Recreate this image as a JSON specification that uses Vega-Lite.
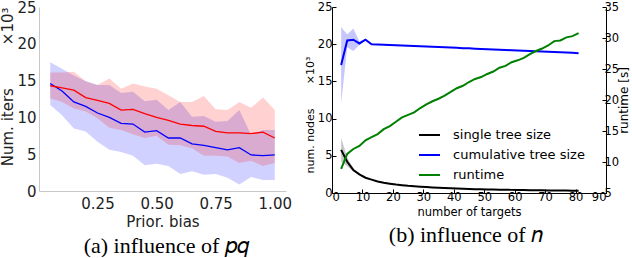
{
  "$schema": "https://vega.github.io/schema/vega-lite/v6.json",
  "padding": {"left": 0, "top": 0, "right": 0, "bottom": 0},
  "background": "white",
  "config": {"view": {"stroke": null}, "font": "DejaVu Sans", "concat": {"spacing": 12}},
  "datasets": {
    "a": [
      {"x": 0.05, "s": "5 points", "m": 14.6, "lo": 11.7, "hi": 17.5},
      {"x": 0.10, "s": "5 points", "m": 13.6, "lo": 10.3, "hi": 16.6},
      {"x": 0.15, "s": "5 points", "m": 12.1, "lo": 8.5, "hi": 15.7},
      {"x": 0.20, "s": "5 points", "m": 11.5, "lo": 8.1, "hi": 14.9},
      {"x": 0.25, "s": "5 points", "m": 10.6, "lo": 6.7, "hi": 14.4},
      {"x": 0.30, "s": "5 points", "m": 10.0, "lo": 5.6, "hi": 14.4},
      {"x": 0.35, "s": "5 points", "m": 9.2, "lo": 5.3, "hi": 13.3},
      {"x": 0.40, "s": "5 points", "m": 9.1, "lo": 4.8, "hi": 13.5},
      {"x": 0.45, "s": "5 points", "m": 8.0, "lo": 3.5, "hi": 12.2},
      {"x": 0.50, "s": "5 points", "m": 8.2, "lo": 3.7, "hi": 12.4},
      {"x": 0.55, "s": "5 points", "m": 7.2, "lo": 3.4, "hi": 11.0},
      {"x": 0.60, "s": "5 points", "m": 7.2, "lo": 2.3, "hi": 12.1},
      {"x": 0.65, "s": "5 points", "m": 6.4, "lo": 2.7, "hi": 10.1},
      {"x": 0.70, "s": "5 points", "m": 6.2, "lo": 2.2, "hi": 10.2},
      {"x": 0.75, "s": "5 points", "m": 5.9, "lo": 2.3, "hi": 9.4},
      {"x": 0.80, "s": "5 points", "m": 5.6, "lo": 1.8, "hi": 9.5},
      {"x": 0.85, "s": "5 points", "m": 5.9, "lo": 0.9, "hi": 11.0},
      {"x": 0.90, "s": "5 points", "m": 4.9, "lo": 1.9, "hi": 7.6},
      {"x": 0.95, "s": "5 points", "m": 4.8, "lo": 1.5, "hi": 8.3},
      {"x": 1.00, "s": "5 points", "m": 4.9, "lo": 1.5, "hi": 8.3},
      {"x": 0.05, "s": "20 points", "m": 14.3, "lo": 12.6, "hi": 16.1},
      {"x": 0.10, "s": "20 points", "m": 14.0, "lo": 12.1, "hi": 16.1},
      {"x": 0.15, "s": "20 points", "m": 13.7, "lo": 11.2, "hi": 16.2},
      {"x": 0.20, "s": "20 points", "m": 12.7, "lo": 10.8, "hi": 14.9},
      {"x": 0.25, "s": "20 points", "m": 12.3, "lo": 9.9, "hi": 14.4},
      {"x": 0.30, "s": "20 points", "m": 11.9, "lo": 8.6, "hi": 15.3},
      {"x": 0.35, "s": "20 points", "m": 11.0, "lo": 8.3, "hi": 13.9},
      {"x": 0.40, "s": "20 points", "m": 11.1, "lo": 7.7, "hi": 14.6},
      {"x": 0.45, "s": "20 points", "m": 10.5, "lo": 7.2, "hi": 14.2},
      {"x": 0.50, "s": "20 points", "m": 10.0, "lo": 7.5, "hi": 13.9},
      {"x": 0.55, "s": "20 points", "m": 9.6, "lo": 6.3, "hi": 13.0},
      {"x": 0.60, "s": "20 points", "m": 9.1, "lo": 6.2, "hi": 12.1},
      {"x": 0.65, "s": "20 points", "m": 8.9, "lo": 5.8, "hi": 12.1},
      {"x": 0.70, "s": "20 points", "m": 8.8, "lo": 4.8, "hi": 12.9},
      {"x": 0.75, "s": "20 points", "m": 8.1, "lo": 4.8, "hi": 11.1},
      {"x": 0.80, "s": "20 points", "m": 7.9, "lo": 4.7, "hi": 11.0},
      {"x": 0.85, "s": "20 points", "m": 7.9, "lo": 3.8, "hi": 12.1},
      {"x": 0.90, "s": "20 points", "m": 7.8, "lo": 4.1, "hi": 11.3},
      {"x": 0.95, "s": "20 points", "m": 8.0, "lo": 3.4, "hi": 12.7},
      {"x": 1.00, "s": "20 points", "m": 7.2, "lo": 3.8, "hi": 11.0}
    ],
    "nodes": [
      {"x": 3, "s": "single tree size", "m": 5.8, "lo": 4.2, "hi": 7.4},
      {"x": 5, "s": "single tree size", "m": 4.2, "lo": 3.6, "hi": 4.8},
      {"x": 7, "s": "single tree size", "m": 3.1, "lo": 2.9, "hi": 3.3},
      {"x": 9, "s": "single tree size", "m": 2.5, "lo": 2.45, "hi": 2.55},
      {"x": 11, "s": "single tree size", "m": 2.05, "lo": 2.0, "hi": 2.1},
      {"x": 13, "s": "single tree size", "m": 1.8, "lo": 1.77, "hi": 1.83},
      {"x": 15, "s": "single tree size", "m": 1.55, "lo": 1.52, "hi": 1.58},
      {"x": 17, "s": "single tree size", "m": 1.38, "lo": 1.36, "hi": 1.4},
      {"x": 19, "s": "single tree size", "m": 1.25, "lo": 1.23, "hi": 1.27},
      {"x": 21, "s": "single tree size", "m": 1.13, "lo": 1.11, "hi": 1.15},
      {"x": 23, "s": "single tree size", "m": 1.04, "lo": 1.02, "hi": 1.06},
      {"x": 25, "s": "single tree size", "m": 0.96, "lo": 0.94, "hi": 0.98},
      {"x": 27, "s": "single tree size", "m": 0.9, "lo": 0.88, "hi": 0.92},
      {"x": 29, "s": "single tree size", "m": 0.84, "lo": 0.82, "hi": 0.86},
      {"x": 31, "s": "single tree size", "m": 0.79, "lo": 0.77, "hi": 0.81},
      {"x": 33, "s": "single tree size", "m": 0.74, "lo": 0.72, "hi": 0.76},
      {"x": 35, "s": "single tree size", "m": 0.7, "lo": 0.68, "hi": 0.72},
      {"x": 37, "s": "single tree size", "m": 0.66, "lo": 0.64, "hi": 0.68},
      {"x": 39, "s": "single tree size", "m": 0.63, "lo": 0.61, "hi": 0.65},
      {"x": 41, "s": "single tree size", "m": 0.6, "lo": 0.58, "hi": 0.62},
      {"x": 43, "s": "single tree size", "m": 0.57, "lo": 0.55, "hi": 0.59},
      {"x": 45, "s": "single tree size", "m": 0.55, "lo": 0.53, "hi": 0.57},
      {"x": 47, "s": "single tree size", "m": 0.52, "lo": 0.5, "hi": 0.54},
      {"x": 49, "s": "single tree size", "m": 0.5, "lo": 0.48, "hi": 0.52},
      {"x": 51, "s": "single tree size", "m": 0.48, "lo": 0.46, "hi": 0.5},
      {"x": 53, "s": "single tree size", "m": 0.46, "lo": 0.44, "hi": 0.48},
      {"x": 55, "s": "single tree size", "m": 0.45, "lo": 0.43, "hi": 0.47},
      {"x": 57, "s": "single tree size", "m": 0.43, "lo": 0.41, "hi": 0.45},
      {"x": 59, "s": "single tree size", "m": 0.42, "lo": 0.4, "hi": 0.44},
      {"x": 61, "s": "single tree size", "m": 0.4, "lo": 0.38, "hi": 0.42},
      {"x": 63, "s": "single tree size", "m": 0.39, "lo": 0.37, "hi": 0.41},
      {"x": 65, "s": "single tree size", "m": 0.38, "lo": 0.36, "hi": 0.4},
      {"x": 67, "s": "single tree size", "m": 0.37, "lo": 0.35, "hi": 0.39},
      {"x": 69, "s": "single tree size", "m": 0.36, "lo": 0.34, "hi": 0.38},
      {"x": 71, "s": "single tree size", "m": 0.35, "lo": 0.33, "hi": 0.37},
      {"x": 73, "s": "single tree size", "m": 0.34, "lo": 0.32, "hi": 0.36},
      {"x": 75, "s": "single tree size", "m": 0.33, "lo": 0.31, "hi": 0.35},
      {"x": 77, "s": "single tree size", "m": 0.32, "lo": 0.3, "hi": 0.34},
      {"x": 79, "s": "single tree size", "m": 0.31, "lo": 0.29, "hi": 0.33},
      {"x": 81, "s": "single tree size", "m": 0.3, "lo": 0.28, "hi": 0.32},
      {"x": 3, "s": "cumulative tree size", "m": 17.2, "lo": 12.0, "hi": 22.3},
      {"x": 5, "s": "cumulative tree size", "m": 20.5, "lo": 19.6, "hi": 21.3},
      {"x": 7, "s": "cumulative tree size", "m": 20.6, "lo": 19.1, "hi": 22.1},
      {"x": 9, "s": "cumulative tree size", "m": 20.1, "lo": 19.9, "hi": 20.4},
      {"x": 11, "s": "cumulative tree size", "m": 20.6, "lo": 20.5, "hi": 20.7},
      {"x": 13, "s": "cumulative tree size", "m": 20.0, "lo": 19.95, "hi": 20.05},
      {"x": 15, "s": "cumulative tree size", "m": 19.96, "lo": 19.91, "hi": 20.01},
      {"x": 17, "s": "cumulative tree size", "m": 19.93, "lo": 19.88, "hi": 19.98},
      {"x": 19, "s": "cumulative tree size", "m": 19.89, "lo": 19.84, "hi": 19.94},
      {"x": 21, "s": "cumulative tree size", "m": 19.86, "lo": 19.81, "hi": 19.91},
      {"x": 23, "s": "cumulative tree size", "m": 19.82, "lo": 19.77, "hi": 19.87},
      {"x": 25, "s": "cumulative tree size", "m": 19.79, "lo": 19.74, "hi": 19.84},
      {"x": 27, "s": "cumulative tree size", "m": 19.75, "lo": 19.7, "hi": 19.8},
      {"x": 29, "s": "cumulative tree size", "m": 19.72, "lo": 19.67, "hi": 19.77},
      {"x": 31, "s": "cumulative tree size", "m": 19.68, "lo": 19.63, "hi": 19.73},
      {"x": 33, "s": "cumulative tree size", "m": 19.65, "lo": 19.6, "hi": 19.7},
      {"x": 35, "s": "cumulative tree size", "m": 19.61, "lo": 19.56, "hi": 19.66},
      {"x": 37, "s": "cumulative tree size", "m": 19.58, "lo": 19.53, "hi": 19.63},
      {"x": 39, "s": "cumulative tree size", "m": 19.54, "lo": 19.49, "hi": 19.59},
      {"x": 41, "s": "cumulative tree size", "m": 19.51, "lo": 19.46, "hi": 19.56},
      {"x": 43, "s": "cumulative tree size", "m": 19.47, "lo": 19.42, "hi": 19.52},
      {"x": 45, "s": "cumulative tree size", "m": 19.44, "lo": 19.39, "hi": 19.49},
      {"x": 47, "s": "cumulative tree size", "m": 19.4, "lo": 19.35, "hi": 19.45},
      {"x": 49, "s": "cumulative tree size", "m": 19.36, "lo": 19.31, "hi": 19.41},
      {"x": 51, "s": "cumulative tree size", "m": 19.33, "lo": 19.28, "hi": 19.38},
      {"x": 53, "s": "cumulative tree size", "m": 19.29, "lo": 19.24, "hi": 19.34},
      {"x": 55, "s": "cumulative tree size", "m": 19.26, "lo": 19.21, "hi": 19.31},
      {"x": 57, "s": "cumulative tree size", "m": 19.22, "lo": 19.17, "hi": 19.27},
      {"x": 59, "s": "cumulative tree size", "m": 19.19, "lo": 19.14, "hi": 19.24},
      {"x": 61, "s": "cumulative tree size", "m": 19.15, "lo": 19.1, "hi": 19.2},
      {"x": 63, "s": "cumulative tree size", "m": 19.12, "lo": 19.07, "hi": 19.17},
      {"x": 65, "s": "cumulative tree size", "m": 19.08, "lo": 19.03, "hi": 19.13},
      {"x": 67, "s": "cumulative tree size", "m": 19.05, "lo": 19.0, "hi": 19.1},
      {"x": 69, "s": "cumulative tree size", "m": 19.01, "lo": 18.96, "hi": 19.06},
      {"x": 71, "s": "cumulative tree size", "m": 18.98, "lo": 18.93, "hi": 19.03},
      {"x": 73, "s": "cumulative tree size", "m": 18.94, "lo": 18.89, "hi": 18.99},
      {"x": 75, "s": "cumulative tree size", "m": 18.91, "lo": 18.86, "hi": 18.96},
      {"x": 77, "s": "cumulative tree size", "m": 18.87, "lo": 18.82, "hi": 18.92},
      {"x": 79, "s": "cumulative tree size", "m": 18.84, "lo": 18.79, "hi": 18.89},
      {"x": 81, "s": "cumulative tree size", "m": 18.8, "lo": 18.75, "hi": 18.85}
    ],
    "runtime": [
      {"x": 3, "s": "runtime", "r": 8.9}, {"x": 5, "s": "runtime", "r": 11.3},
      {"x": 7, "s": "runtime", "r": 12.1}, {"x": 9, "s": "runtime", "r": 12.6},
      {"x": 11, "s": "runtime", "r": 13.5}, {"x": 13, "s": "runtime", "r": 14.0},
      {"x": 15, "s": "runtime", "r": 14.5}, {"x": 17, "s": "runtime", "r": 15.3},
      {"x": 19, "s": "runtime", "r": 15.8}, {"x": 21, "s": "runtime", "r": 16.5},
      {"x": 23, "s": "runtime", "r": 17.2}, {"x": 25, "s": "runtime", "r": 17.6},
      {"x": 27, "s": "runtime", "r": 18.0}, {"x": 29, "s": "runtime", "r": 18.7},
      {"x": 31, "s": "runtime", "r": 19.3}, {"x": 33, "s": "runtime", "r": 19.8},
      {"x": 35, "s": "runtime", "r": 20.2}, {"x": 37, "s": "runtime", "r": 20.7},
      {"x": 39, "s": "runtime", "r": 21.3}, {"x": 41, "s": "runtime", "r": 21.9},
      {"x": 43, "s": "runtime", "r": 22.3}, {"x": 45, "s": "runtime", "r": 22.9},
      {"x": 47, "s": "runtime", "r": 23.4}, {"x": 49, "s": "runtime", "r": 23.7},
      {"x": 51, "s": "runtime", "r": 24.2}, {"x": 53, "s": "runtime", "r": 24.6},
      {"x": 55, "s": "runtime", "r": 25.2}, {"x": 57, "s": "runtime", "r": 25.5},
      {"x": 59, "s": "runtime", "r": 26.1}, {"x": 61, "s": "runtime", "r": 26.4},
      {"x": 63, "s": "runtime", "r": 26.8}, {"x": 65, "s": "runtime", "r": 27.4},
      {"x": 67, "s": "runtime", "r": 27.9}, {"x": 69, "s": "runtime", "r": 28.3},
      {"x": 71, "s": "runtime", "r": 28.8}, {"x": 73, "s": "runtime", "r": 29.5},
      {"x": 75, "s": "runtime", "r": 29.6}, {"x": 77, "s": "runtime", "r": 30.1},
      {"x": 79, "s": "runtime", "r": 30.3}, {"x": 81, "s": "runtime", "r": 30.8}
    ]
  },
  "hconcat": [
    {
      "title": {"text": "(a) influence of 𝑝𝑞", "orient": "bottom", "anchor": "middle", "font": "Liberation Serif", "fontSize": 22, "fontWeight": "normal", "color": "black", "offset": 7, "dx": 20},
      "vconcat": [
        {
          "width": 247,
          "height": 184,
          "data": {"name": "a"},
          "encoding": {
            "x": {"field": "x", "type": "quantitative", "scale": {"domain": [0.0025, 1.0475], "nice": false, "zero": false},
              "axis": {"values": [0.25, 0.5, 0.75, 1.0], "format": ".2f", "title": "Prior. bias", "grid": false, "ticks": false, "labelOverlap": false, "domainColor": "#c8c8c8", "labelFontSize": 15, "titleFontSize": 15, "titleFontWeight": "normal", "labelColor": "#222", "titleColor": "#222", "labelPadding": 5, "titlePadding": 3}}
          },
          "layer": [
            {
              "mark": {"type": "area", "opacity": 0.18},
              "encoding": {
                "y": {"field": "lo", "type": "quantitative", "scale": {"domain": [0, 25], "nice": false},
                  "axis": {"values": [0, 5, 10, 15, 20, 25], "title": "Num. iters\u00a0\u00a0\u00a0\u00a0\u00a0\u00a0\u00a0\u00a0\u00a0×10³", "titleAnchor": "end", "grid": false, "ticks": false, "labelOverlap": false, "domainColor": "#c8c8c8", "labelFontSize": 15, "titleFontSize": 15, "titleFontWeight": "normal", "labelColor": "#222", "titleColor": "#222", "labelPadding": 3, "titlePadding": 1}},
                "y2": {"field": "hi"},
                "fill": {"field": "s", "type": "nominal", "scale": {"domain": ["5 points", "20 points"], "range": ["#0000ff", "#ff0000"]}, "legend": null}
              }
            },
            {
              "mark": {"type": "line", "strokeWidth": 1.3},
              "encoding": {
                "y": {"field": "m", "type": "quantitative",
                  "axis": {"values": [0, 5, 10, 15, 20, 25], "title": "Num. iters\u00a0\u00a0\u00a0\u00a0\u00a0\u00a0\u00a0\u00a0\u00a0×10³", "titleAnchor": "end", "grid": false, "ticks": false, "labelOverlap": false, "domainColor": "#c8c8c8", "labelFontSize": 15, "titleFontSize": 15, "titleFontWeight": "normal", "labelColor": "#222", "titleColor": "#222", "labelPadding": 3, "titlePadding": 1}},
                "stroke": {"field": "s", "type": "nominal", "scale": {"domain": ["5 points", "20 points"], "range": ["#0000ff", "#ff0000"]},
                  "legend": {"title": null, "orient": "none", "legendX": 121, "legendY": 8, "fillColor": "white", "strokeColor": "#d8d8d8", "cornerRadius": 3, "padding": 5, "symbolType": "M-1,0H3", "symbolSize": 210, "symbolStrokeWidth": 1.3, "labelFontSize": 15, "labelColor": "#222", "labelOffset": 26, "rowPadding": 5}}
              }
            }
          ]
        }
      ]
    },
    {
      "title": {"text": "(b) influence of 𝑛", "orient": "bottom", "anchor": "middle", "font": "Liberation Serif", "fontSize": 22, "fontWeight": "normal", "color": "black", "offset": 7, "dx": -1},
      "vconcat": [
        {
          "width": 274,
          "height": 186,
          "resolve": {"scale": {"y": "independent"}},
          "encoding": {
            "x": {"field": "x", "type": "quantitative", "scale": {"domain": [0, 90], "nice": false},
              "axis": {"values": [0, 10, 20, 30, 40, 50, 60, 70, 80, 90], "title": "number of targets", "grid": false, "tickSize": -4, "labelOverlap": false, "domainColor": "black", "tickColor": "black", "labelFontSize": 11.5, "titleFontSize": 11.5, "titleFontWeight": "normal", "labelColor": "black", "titleColor": "black", "labelPadding": 2, "titlePadding": 4}}
          },
          "layer": [
            {
              "data": {"name": "nodes"},
              "layer": [
                {
                  "mark": {"type": "area", "opacity": 0.22},
                  "encoding": {
                    "y": {"field": "lo", "type": "quantitative", "scale": {"domain": [0, 25], "nice": false},
                      "axis": {"values": [0, 5, 10, 15, 20, 25], "title": "num. nodes\u00a0\u00a0\u00a0\u00a0\u00a0\u00a0\u00a0×10³", "titleAnchor": "end", "titleY": 49, "grid": false, "tickSize": -4, "labelOverlap": false, "domainColor": "black", "tickColor": "black", "labelFontSize": 11.5, "titleFontSize": 11, "titleFontWeight": "normal", "labelColor": "black", "titleColor": "black", "labelPadding": 4, "titlePadding": 2}},
                    "y2": {"field": "hi"},
                    "fill": {"field": "s", "type": "nominal", "scale": {"domain": ["single tree size", "cumulative tree size"], "range": ["black", "#0000ff"]}, "legend": null}
                  }
                },
                {
                  "mark": {"type": "line", "strokeWidth": 2},
                  "encoding": {
                    "y": {"field": "m", "type": "quantitative",
                      "axis": {"values": [0, 5, 10, 15, 20, 25], "title": "num. nodes\u00a0\u00a0\u00a0\u00a0\u00a0\u00a0\u00a0×10³", "titleAnchor": "end", "titleY": 49, "grid": false, "tickSize": -4, "labelOverlap": false, "domainColor": "black", "tickColor": "black", "labelFontSize": 11.5, "titleFontSize": 11, "titleFontWeight": "normal", "labelColor": "black", "titleColor": "black", "labelPadding": 4, "titlePadding": 2}},
                    "stroke": {"field": "s", "type": "nominal", "scale": {"domain": ["single tree size", "cumulative tree size", "runtime"], "range": ["black", "#0000ff", "#008000"]},
                      "legend": {"title": null, "orient": "none", "legendX": 86, "legendY": 120, "padding": 0, "symbolType": "M-1,0H2", "symbolSize": 196, "symbolStrokeWidth": 2, "labelFontSize": 13, "labelColor": "black", "labelOffset": 19, "rowPadding": 5}}
                  }
                }
              ]
            },
            {
              "data": {"name": "runtime"},
              "mark": {"type": "line", "strokeWidth": 2},
              "encoding": {
                "y": {"field": "r", "type": "quantitative", "scale": {"domain": [5, 35], "nice": false, "zero": false},
                  "axis": {"orient": "right", "values": [5, 10, 15, 20, 25, 30, 35], "title": "runtime [s]", "titleAngle": -90, "titleBaseline": "top", "grid": false, "tickSize": -4, "labelOverlap": false, "domainColor": "black", "tickColor": "black", "labelFontSize": 11.5, "titleFontSize": 12, "titleFontWeight": "normal", "labelColor": "black", "titleColor": "black", "labelPadding": 2, "titlePadding": 0}},
                "stroke": {"field": "s", "type": "nominal"}
              }
            }
          ]
        }
      ]
    }
  ],
  "resolve": {"scale": {"stroke": "independent", "fill": "independent"}}
}
